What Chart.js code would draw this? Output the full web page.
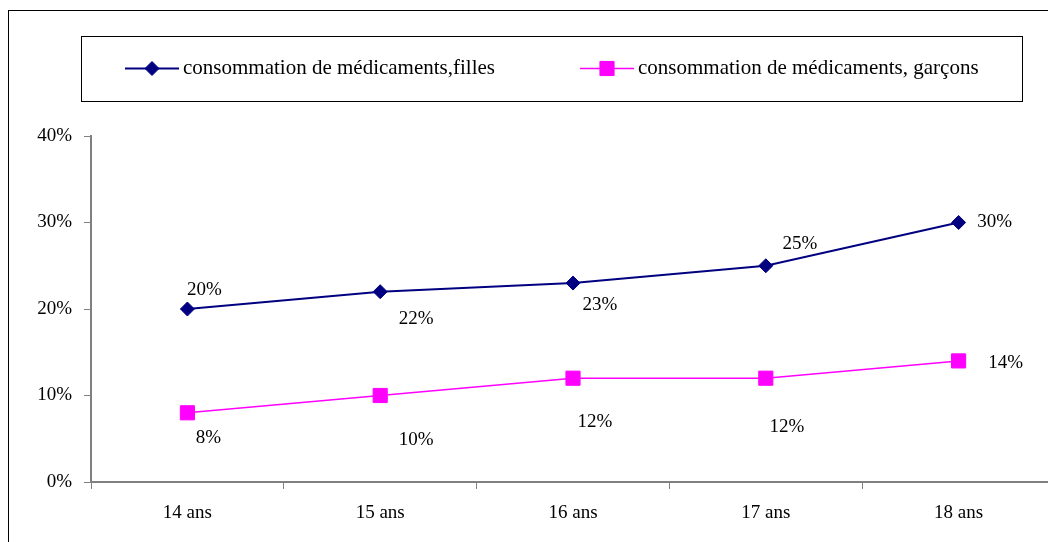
<!DOCTYPE html>
<html>
<head>
<meta charset="utf-8">
<script src="https://cdn.jsdelivr.net/npm/chart.js"></script>
<style>
  html, body { margin: 0; padding: 0; background: #fff; overflow: hidden; width: 1048px; height: 542px; }
  #frame { position: absolute; left: 8px; top: 10px; width: 1100px; height: 600px; border: 1px solid #000; }
  #chart { position: absolute; left: 0; top: 0; }
</style>
</head>
<body>
<div id="frame"></div>
<canvas id="chart" width="1080" height="560"></canvas>
<script>
// Data
const ages = ['14 ans', '15 ans', '16 ans', '17 ans', '18 ans'];
const filles = [20, 22, 23, 25, 30];
const garcons = [8, 10, 12, 12, 14];
const seriesNames = ['consommation de médicaments,filles', 'consommation de médicaments, garçons'];
const yTicks = [0, 10, 20, 30, 40];

const FONT = '"Liberation Serif", "Times New Roman", serif';

// Excel style boxed legend
const boxLegend = {
    id: 'boxLegend',
    afterDraw(chart, args, opts) {
        const ctx = chart.ctx;
        ctx.save();
        ctx.strokeStyle = '#000';
        ctx.lineWidth = 1;
        ctx.strokeRect(opts.box.x + 0.5, opts.box.y + 0.5, opts.box.w, opts.box.h);
        ctx.font = '21px ' + FONT;
        ctx.textBaseline = 'middle';
        opts.items.forEach((it, i) => {
            const ds = chart.data.datasets[i];
            const y = opts.box.y + opts.box.h / 2;
            ctx.strokeStyle = ds.borderColor;
            ctx.lineWidth = ds.borderWidth;
            ctx.beginPath();
            ctx.moveTo(it.x, y);
            ctx.lineTo(it.x + 54, y);
            ctx.stroke();
            ctx.fillStyle = ds.pointBackgroundColor;
            ctx.strokeStyle = ds.pointBorderColor;
            ctx.lineWidth = 1;
            Chart.helpers.drawPoint(ctx, { pointStyle: ds.pointStyle, radius: ds.pointRadius, borderWidth: 1 }, it.x + 27, y);
            ctx.fillStyle = '#000';
            ctx.fillText(seriesNames[i], it.x + 58, y);
        });
        ctx.restore();
    }
};

// Percent labels next to the points
const pointLabels = {
    id: 'pointLabels',
    afterDatasetsDraw(chart, args, opts) {
        const ctx = chart.ctx;
        ctx.save();
        ctx.font = '19px ' + FONT;
        ctx.fillStyle = '#000';
        ctx.textAlign = 'center';
        ctx.textBaseline = 'middle';
        chart.data.datasets.forEach((ds, i) => {
            const meta = chart.getDatasetMeta(i);
            meta.data.forEach((pt, j) => {
                const off = opts.offsets[i][j];
                ctx.fillText(ds.data[j] + '%', pt.x + off[0], pt.y + off[1]);
            });
        });
        ctx.restore();
    }
};

new Chart(document.getElementById('chart'), {
    type: 'line',
    data: {
        labels: ages,
        datasets: [{
            label: seriesNames[0],
            data: filles,
            borderColor: '#000080',
            borderWidth: 2,
            pointStyle: 'rectRot',
            pointRadius: 7,
            pointBackgroundColor: '#000080',
            pointBorderColor: '#000080',
            pointBorderWidth: 1,
            tension: 0
        }, {
            label: seriesNames[1],
            data: garcons,
            borderColor: '#ff00ff',
            borderWidth: 1.5,
            pointStyle: 'rect',
            pointRadius: 10,
            pointBackgroundColor: '#ff00ff',
            pointBorderColor: '#ff00ff',
            pointBorderWidth: 1,
            tension: 0
        }]
    },
    options: {
        responsive: false,
        animation: false,
        devicePixelRatio: 1,
        layout: { padding: { left: 0, top: 136, right: 25, bottom: 0 } },
        plugins: {
            legend: { display: false },
            tooltip: { enabled: false },
            boxLegend: {
                box: { x: 81, y: 36, w: 941, h: 65 },
                items: [{ x: 125 }, { x: 580 }]
            },
            pointLabels: {
                offsets: [
                    [[17, -19], [36, 27], [27, 22], [34, -22], [36, 0]],
                    [[21, 25], [36, 45], [22, 44], [21, 49], [47, 2]]
                ]
            }
        },
        scales: {
            x: {
                offset: true,
                grid: {
                    offset: true,
                    drawOnChartArea: false,
                    tickLength: 7,
                    color: '#808080'
                },
                border: { color: '#808080', width: 2 },
                ticks: {
                    color: '#000',
                    padding: 13,
                    maxRotation: 0,
                    font: { family: FONT, size: 19 }
                },
                afterFit(scale) { scale.height = 78; }
            },
            y: {
                min: 0,
                max: 40,
                afterBuildTicks(scale) { scale.ticks = yTicks.map(v => ({ value: v })); },
                grid: {
                    drawOnChartArea: false,
                    tickLength: 7,
                    color: '#808080'
                },
                border: { color: '#808080', width: 2 },
                ticks: {
                    color: '#000',
                    padding: 12,
                    font: { family: FONT, size: 19 },
                    callback: v => v + '%'
                },
                afterFit(scale) { scale.width = 91; }
            }
        }
    },
    plugins: [boxLegend, pointLabels]
});
</script>
</body>
</html>
